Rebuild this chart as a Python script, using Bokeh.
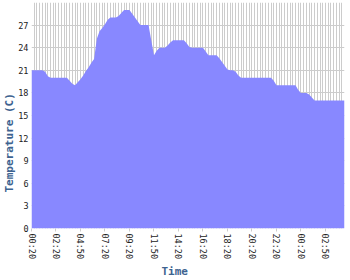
import math
from bokeh.plotting import figure
from bokeh.models import Range1d, FixedTicker, Title, ColumnDataSource
from bokeh.embed import file_html
from bokeh.resources import INLINE

temps = [21, 21, 21, 21, 21, 20.8, 20.2, 20, 20, 20, 20, 20, 20, 20,
         19.6, 19.2, 19, 19.4, 19.8, 20.3, 20.9, 21.4, 22, 22.5,
         25.2, 26.2, 26.6, 27.1, 27.7, 28, 28, 28, 28.2, 28.6, 29, 29, 29,
         28.5, 28, 27.5, 27, 27, 27, 27,
         25, 23, 23.6, 24, 24, 24, 24.3, 24.7, 25, 25, 25, 25, 25, 24.6, 24.1,
         24, 24, 24, 24, 24,
         23.5, 23, 23, 23, 23, 22.6, 22.1, 21.6, 21.1, 21, 21, 20.8, 20.3, 20,
         20, 20, 20, 20, 20, 20, 20, 20, 20, 20, 20,
         19.6, 19,
         19, 19, 19, 19, 19, 19, 19,
         18.4, 18, 18, 18, 17.8, 17.4, 17,
         17, 17, 17, 17, 17, 17, 17, 17, 17, 17, 17]
tick_labels = ["00:20", "02:20", "04:50", "07:20", "09:20", "11:50", "14:20",
               "16:20", "18:20", "20:20", "22:20", "00:20", "02:50"]
tick_step = 9
y_ticks = [0, 3, 6, 9, 12, 15, 18, 21, 24, 27]

n = len(temps)
idx = list(range(n))
tick_pos = [i * tick_step for i in range(len(tick_labels))]

src = ColumnDataSource(dict(x=idx, y=temps, y0=[0] * n))

p = figure(width=350, height=280, output_backend="svg", toolbar_location=None,
           x_range=Range1d(0, n - 1), y_range=Range1d(0, 30),
           min_border_left=31, min_border_right=6, min_border_top=2,
           min_border_bottom=52)
p.outline_line_color = None
p.background_fill_color = "white"
p.border_fill_color = "white"

p.varea(x="x", y1="y0", y2="y", source=src, fill_color="#8888ff", fill_alpha=1.0)

# grids
p.xgrid.ticker = FixedTicker(ticks=idx)
p.xgrid.grid_line_color = "#cccccc"
p.xgrid.grid_line_width = 1
p.ygrid.ticker = FixedTicker(ticks=y_ticks)
p.ygrid.grid_line_color = "#cccccc"

# x axis
p.xaxis.ticker = FixedTicker(ticks=tick_pos)
p.xaxis.major_label_overrides = {tp: lab for tp, lab in zip(tick_pos, tick_labels)}
p.xaxis.major_label_orientation = "vertical"
p.xaxis.axis_line_color = None
p.xaxis.major_tick_line_color = "#cccccc"
p.xaxis.major_tick_out = 3
p.xaxis.major_tick_in = 0
p.xaxis.minor_tick_line_color = None
p.xaxis.minor_tick_out = 0
p.xaxis.major_label_standoff = 2

# y axis
p.yaxis.ticker = FixedTicker(ticks=y_ticks)
p.yaxis.axis_line_color = None
p.yaxis.major_tick_line_color = None
p.yaxis.minor_tick_line_color = None
p.yaxis.major_tick_out = 0
p.yaxis.major_tick_in = 0
p.yaxis.minor_tick_out = 0
p.yaxis.minor_tick_in = 0
p.yaxis.major_label_standoff = 3

for ax in (p.xaxis, p.yaxis):
    ax.major_label_text_font = "DejaVu Sans Mono"
    ax.major_label_text_font_size = "8.5px"
    ax.major_label_text_color = "#222222"

title_color = "#3d6390"
p.add_layout(Title(text="Time", align="left", offset=130,
                   text_font="DejaVu Sans Mono", text_font_style="bold",
                   text_font_size="11px", text_color=title_color,
                   standoff=0), "below")
p.add_layout(Title(text="Temperature (C)", align="left", offset=36,
                   text_font="DejaVu Sans Mono", text_font_style="bold",
                   text_font_size="11px", text_color=title_color,
                   standoff=0), "left")

open("out.html", "w").write(file_html(p, INLINE))
